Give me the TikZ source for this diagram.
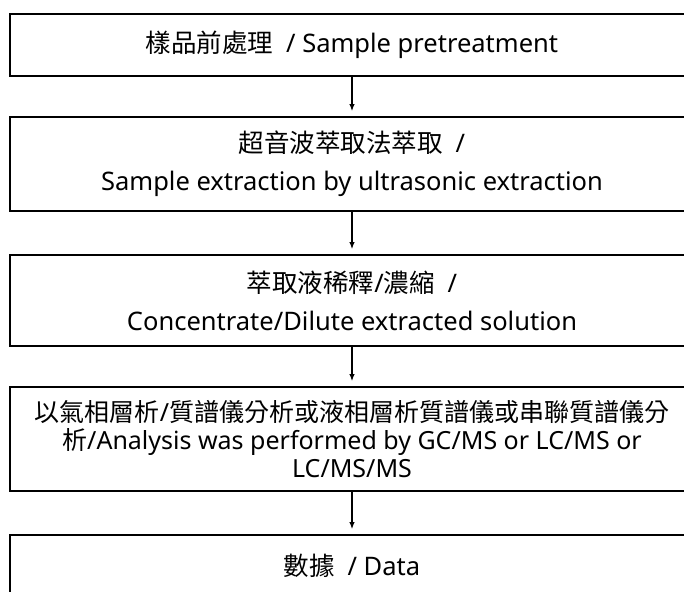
\documentclass[tikz,border=0pt]{standalone}
\usepackage{fontspec}
\setmainfont{Noto Sans}
\newfontfamily\cjk{Noto Sans CJK TC}
\usetikzlibrary{arrows.meta}
\begin{document}
\begin{tikzpicture}[x=1pt,y=-1pt,
    stepbox/.style={draw,line width=2pt,minimum width=684pt,inner sep=0pt,
      align=center,font=\fontsize{25.5}{38}\selectfont},
    flow/.style={-{Latex[length=7pt,width=5.5pt]},line width=1.1pt,shorten >=5pt}]
  \useasboundingbox (0,0) rectangle (684,591);
  \clip (0,0) rectangle (684,591);
  % steps
  \node[stepbox,minimum height=62pt] (pretreat) at (352,45)
    {{\cjk 樣品前處理}\enspace / Sample pretreatment};
  \node[stepbox,minimum height=94pt] (extract) at (352,164)
    {{\cjk 超音波萃取法萃取}\enspace /\\Sample extraction by ultrasonic extraction};
  \node[stepbox,minimum height=91pt] (dilute) at (352,300.5)
    {{\cjk 萃取液稀釋}/{\cjk 濃縮}\enspace /\\Concentrate/Dilute extracted solution};
  \node[stepbox,minimum height=104pt,font=\fontsize{25}{28}\selectfont] (analysis) at (352,439)
    {{\cjk 以氣相層析}/{\cjk 質譜儀分析或液相層析質譜儀或串聯質譜儀分}\\{\cjk 析}/Analysis was performed by GC/MS or LC/MS or\\LC/MS/MS};
  \node[stepbox,minimum height=62pt] (data) at (352,566)
    {{\cjk 數據}\enspace / Data};
  % arrows
  \draw[flow] (pretreat) -- (extract);
  \draw[flow] (extract) -- (dilute);
  \draw[flow] (dilute) -- (analysis);
  \draw[flow] (analysis) -- (data);
\end{tikzpicture}
\end{document}
